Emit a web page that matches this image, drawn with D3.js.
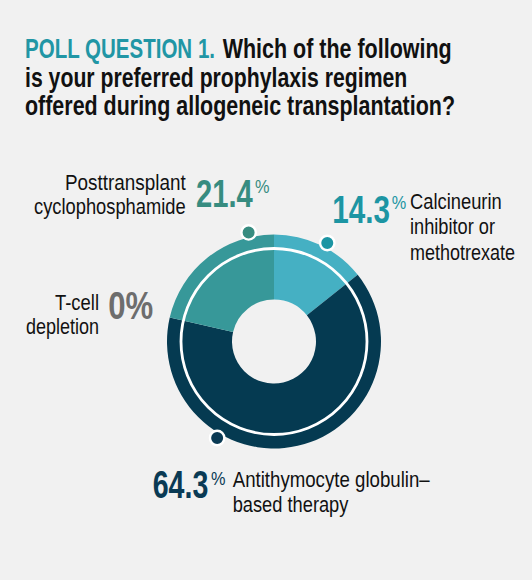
<!DOCTYPE html>
<meta charset="utf-8">
<style>
body {
  margin: 0;
  background: #f1f1f1;
}
svg text {
  font-family: "Liberation Sans", Arial, sans-serif;
}
</style>
<svg width="532" height="580"></svg>
<script src="https://cdn.jsdelivr.net/npm/d3@7/dist/d3.min.js"></script>
<script>

// poll answers, clockwise from 12 o'clock
var categories = ["Calcineurin inhibitor or methotrexate", "Antithymocyte globulin\u2013based therapy", "T-cell depletion", "Posttransplant cyclophosphamide"];
var labelLines = [["Calcineurin", "inhibitor or", "methotrexate"], ["Antithymocyte globulin\u2013", "based therapy"], ["T-cell", "depletion"], ["Posttransplant", "cyclophosphamide"]];
var values = [14.3, 64.3, 0, 21.4];
var segColors = ["#45b0c3", "#053a51", "#6d6d6d", "#379899"];
var accentColors = ["#1c95a3", "#0a3a54", "#6d6d6d", "#378c80"];

var titleLead = "POLL QUESTION 1.";
var titleLines = ["Which of the following", "is your preferred prophylaxis regimen", "offered during allogeneic transplantation?"];

var svg = d3.select("svg"),
    cx = 274, cy = 341.5;

// the reference face is a condensed gothic; squeeze Liberation Sans to the same widths
function squeezed(sel, width) {
  return sel.attr("textLength", width).attr("lengthAdjust", "spacingAndGlyphs");
}

// title
var titleWidths = [382.3, 430];
squeezed(svg.append("text"), 190)
  .attr("x", 25).attr("y", 58.3)
  .attr("fill", "#2196a5")
  .style("font-size", "28px").style("font-weight", "bold")
  .text(titleLead);
squeezed(svg.append("text"), 229)
  .attr("x", 222.7).attr("y", 58.3)
  .attr("fill", "#111")
  .style("font-size", "28px").style("font-weight", "bold")
  .text(titleLines[0]);
titleLines.slice(1).forEach(function (t, i) {
  squeezed(svg.append("text"), titleWidths[i])
    .attr("x", 25)
    .attr("y", 58.3 + 28.4 * (i + 1))
    .attr("fill", "#111")
    .style("font-size", "28px")
    .style("font-weight", "bold")
    .text(t);
});

// donut
var pie = d3.pie().sort(null).value(function (d) { return d; });
var arcs = pie(values);

var arc = d3.arc().innerRadius(42).outerRadius(107);

var g = svg.append("g").attr("transform", "translate(" + cx + "," + cy + ")");

g.selectAll("path.seg")
  .data(arcs)
  .enter().append("path")
  .attr("class", "seg")
  .attr("d", arc)
  .attr("fill", function (d, i) { return segColors[i]; });

g.append("circle")
  .attr("r", 93)
  .attr("fill", "none")
  .attr("stroke", "#fff")
  .attr("stroke-width", 2.8);

// marker dots (angle in degrees from top, clockwise)
var dotAngles = [28.4, 210.5, null, -13.1];
var angle = d3.scaleLinear().domain([0, 360]).range([0, 2 * Math.PI]);

g.selectAll("circle.dot")
  .data(arcs.filter(function (d, i) { return dotAngles[i] != null; }))
  .enter().append("circle")
  .attr("class", "dot")
  .attr("cx", function (d) { return 112 * Math.sin(angle(dotAngles[d.index])); })
  .attr("cy", function (d) { return -112 * Math.cos(angle(dotAngles[d.index])); })
  .attr("r", 7.2)
  .attr("fill", function (d) { return accentColors[d.index]; })
  .attr("stroke", "#fff")
  .attr("stroke-width", 2.4);

// labels: number left/baseline/width, text left-or-right edge, first baseline, line gap, line widths
var labelPos = [
  {nx: 332.3, ny: 222.7, nw: 57.7, px: 391.7, tx: 410, ty: 209.3, lh: 25.1, anchor: "start", tw: [91.7, 85, 105]},
  {nx: 152.7, ny: 498.3, nw: 55.6, px: 211, tx: 232.7, ty: 486.7, lh: 25.6, anchor: "start", tw: [197, 115.7]},
  {nx: 108.3, ny: 319, nw: 45, px: null, tx: 99, ty: 309.5, lh: 24.2, anchor: "end", tw: [44, 73]},
  {nx: 196, ny: 206.7, nw: 56.7, px: 255, tx: 185.7, ty: 190, lh: 24.3, anchor: "end", tw: [120.7, 151.7]}
];

var fmt = d3.format(".1f");

values.forEach(function (v, i) {
  var p = labelPos[i];
  squeezed(svg.append("text"), p.nw)
    .attr("x", p.nx)
    .attr("y", p.ny)
    .attr("fill", accentColors[i])
    .style("font-size", "39px")
    .style("font-weight", "bold")
    .text(v === 0 ? "0%" : fmt(v));

  if (v !== 0) {
    squeezed(svg.append("text"), 14.5)
      .attr("x", p.px)
      .attr("y", p.ny - 13.4)
      .attr("fill", accentColors[i])
      .style("font-size", "19px")
      .text("%");
  }

  labelLines[i].forEach(function (t, j) {
    var w = p.tw[j];
    squeezed(svg.append("text"), w)
      .attr("x", p.anchor === "end" ? p.tx - w : p.tx)
      .attr("y", p.ty + j * p.lh)
      .attr("fill", "#111")
      .style("font-size", "22px")
      .text(t);
  });
});

</script>
